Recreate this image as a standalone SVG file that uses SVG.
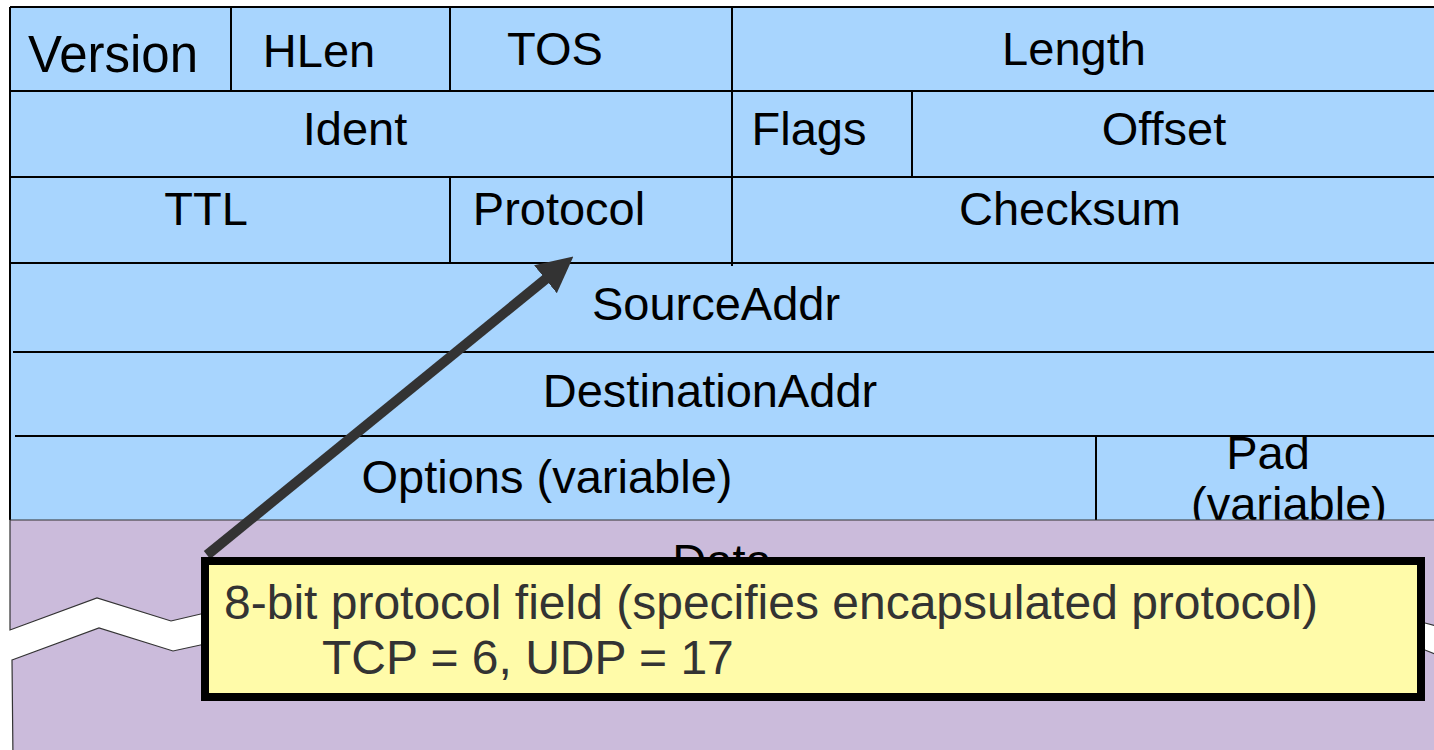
<svg xmlns="http://www.w3.org/2000/svg" width="1434" height="750" viewBox="0 0 1434 750">
<style>
.lbl{font-family:"Liberation Sans",Arial,sans-serif;font-size:47px;fill:#000;text-anchor:middle}
.grid{stroke:#000;stroke-width:2;fill:none}
.call{font-family:"Liberation Sans",Arial,sans-serif;font-size:48px;fill:#333}
</style>
<defs>
<marker id="ah" markerUnits="userSpaceOnUse" markerWidth="36" markerHeight="36" viewBox="0 0 36 36" refX="2" refY="18" orient="auto">
<path d="M0,0 L36,18 L0,36 z" fill="#333"/>
</marker>
</defs>
<rect width="1434" height="750" fill="#fff"/>
<g id="header">
<rect x="10" y="7" width="1430" height="513" fill="#A8D5FE"/>
<path class="grid" d="M10,7 H1434 M10,7 V520 M10,91 H1434 M10,177 H1434 M10,263 H1434 M13,352 H1434 M15,436 H1434 M231,7 V91 M450,7 V91 M450,177 V263 M732,7 V266 M912,91 V177 M1096,436 V520"/>
</g>
<g id="version"><text class="lbl" x="113" y="72" style="font-size:51px">Version</text></g>
<g id="hlen"><text class="lbl" x="319" y="67">HLen</text></g>
<g id="tos"><text class="lbl" x="555" y="65">TOS</text></g>
<g id="length"><text class="lbl" x="1074" y="65">Length</text></g>
<g id="ident"><text class="lbl" x="355" y="145">Ident</text></g>
<g id="flags"><text class="lbl" x="809" y="145">Flags</text></g>
<g id="offset"><text class="lbl" x="1164" y="145">Offset</text></g>
<g id="ttl"><text class="lbl" x="206" y="225">TTL</text></g>
<g id="protocol"><text class="lbl" x="559" y="225">Protocol</text></g>
<g id="checksum"><text class="lbl" x="1070" y="225">Checksum</text></g>
<g id="source"><text class="lbl" x="716" y="320">SourceAddr</text></g>
<g id="dest"><text class="lbl" x="710" y="407">DestinationAddr</text></g>
<g id="options"><text class="lbl" x="547" y="493">Options (variable)</text></g>
<g id="pad"><text class="lbl" x="1268" y="469">Pad</text><text class="lbl" x="1289" y="520">(variable)</text></g>
<g id="data">
<path d="M10,520 H1440 V627 L1425,623 L205,613 L171,621 L97,598 L10,630 Z" fill="#CBBBDB" stroke="#333" stroke-width="1.2"/>
<path d="M12,660 L99,628 L173,651 L205,644 L1425,650 L1440,656 V760 H13 Z" fill="#CBBBDB" stroke="#333" stroke-width="1.2"/>
<text class="lbl" x="722" y="577">Data</text>
</g>
<g id="connectors">
<line x1="207" y1="555" x2="547" y2="278" stroke="#333" stroke-width="10" marker-end="url(#ah)"/>
</g>
<g id="callout">
<rect x="205" y="561" width="1216" height="136" fill="#FFFBA9" stroke="#000" stroke-width="8"/>
<text class="call" x="224" y="619">8-bit protocol field (specifies encapsulated protocol)</text>
<text class="call" x="322" y="674">TCP = 6, UDP = 17</text>
</g>
</svg>
